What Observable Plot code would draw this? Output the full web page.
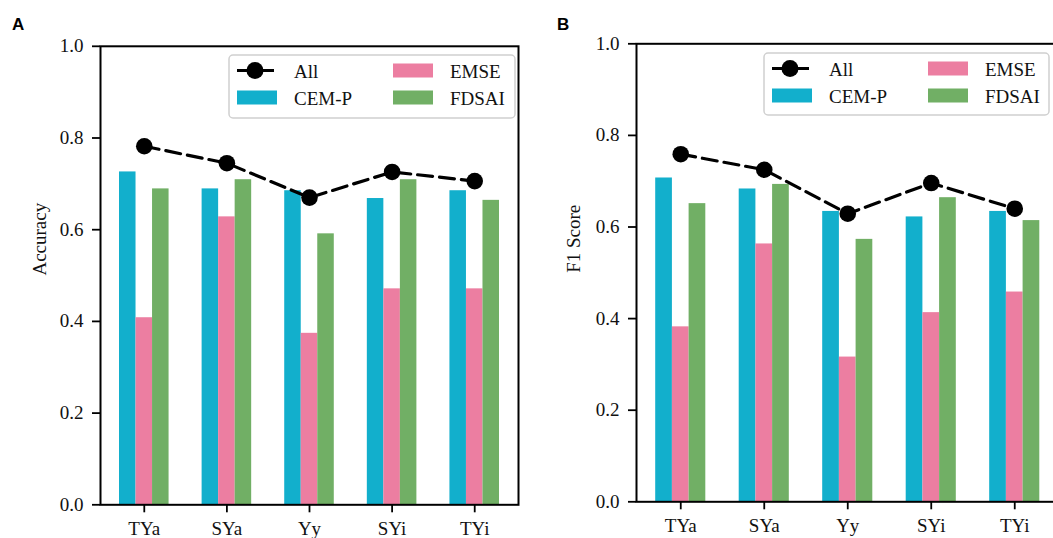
<!DOCTYPE html>
<html><head><meta charset="utf-8">
<script src="https://cdn.jsdelivr.net/npm/d3@7"></script>
<script src="https://cdn.jsdelivr.net/npm/@observablehq/plot@0.6"></script>
<style>
html,body{margin:0;padding:0;background:#fff;overflow:hidden;width:1053px;height:538px}
#wrap{position:relative;width:1053px;height:538px;overflow:hidden}
.panel{position:absolute;top:0}
.panel svg{max-width:none !important}
</style></head><body>
<div id="wrap"></div>
<script>
const categories = ["TYa", "SYa", "Yy", "SYi", "TYi"];
const seriesNames = ["CEM-P", "EMSE", "FDSAI"];
const seriesColors = ["#12afcc", "#ec7ea1", "#71af65"];
const yTicks = [0, 0.2, 0.4, 0.6, 0.8, 1.0];

const accCEMP  = [0.726, 0.689, 0.685, 0.668, 0.685];
const accEMSE  = [0.408, 0.628, 0.374, 0.471, 0.471];
const accFDSAI = [0.689, 0.709, 0.591, 0.709, 0.664];
const accAll   = [0.782, 0.745, 0.670, 0.726, 0.706];

const f1CEMP  = [0.707, 0.683, 0.634, 0.622, 0.634];
const f1EMSE  = [0.382, 0.563, 0.316, 0.413, 0.458];
const f1FDSAI = [0.651, 0.693, 0.573, 0.664, 0.614];
const f1All   = [0.759, 0.725, 0.629, 0.696, 0.640];

const FONT = "Liberation Serif, Times New Roman, serif";
const SANS = "Liberation Sans, Arial, sans-serif";
const wrap = document.getElementById("wrap");

function panel(cfg) {
  const seriesVals = cfg.series;
  const rows = [];
  categories.forEach((c, i) => {
    seriesNames.forEach((s, j) => {
      const off = (j - 1) * 0.2;
      rows.push({cat: c, i, series: s, value: seriesVals[j][i], x1: i + off - 0.1, x2: i + off + 0.1});
    });
  });
  const allRows = categories.map((c, i) => ({cat: c, i, value: cfg.all[i]}));

  const axisFont = {fontFamily: FONT, fontSize: 19, fontVariant: "normal", fill: "#111"};
  const svg = Plot.plot({
    width: cfg.width,
    height: 538,
    marginLeft: cfg.ml, marginRight: cfg.mr, marginTop: cfg.mt, marginBottom: cfg.mb,
    style: {fontFamily: FONT, fontSize: "19px", color: "#111", background: "transparent", overflow: "visible"},
    x: {type: "linear", domain: [-0.53, 4.53]},
    y: {domain: [0, 1]},
    color: {domain: seriesNames, range: seriesColors},
    marks: [
      Plot.rectY(rows, {x1: "x1", x2: "x2", y: "value", fill: "series"}),
      Plot.line(allRows, {x: "i", y: "value", stroke: "black", strokeWidth: 3.2, strokeDasharray: "15,7"}),
      Plot.dot(allRows, {x: "i", y: "value", r: 8.3, fill: "black", stroke: "none"}),
      Plot.frame({stroke: "black", strokeWidth: 2}),
      Plot.axisY({ticks: yTicks, tickFormat: d3.format(".1f"), tickSize: 8, tickPadding: 9, strokeWidth: 1.8, stroke: "black", label: null, ...axisFont}),
      Plot.axisX({ticks: [0, 1, 2, 3, 4], tickFormat: i => categories[i], tickSize: 8, tickPadding: 8.5, strokeWidth: 1.8, stroke: "black", label: null, ...axisFont}),
      Plot.text([cfg.yLabel], {frameAnchor: "left", dx: cfg.labelDx, rotate: -90, ...axisFont})
    ]
  });

  const s = d3.select(svg);
  // panel letter
  s.append("text").attr("x", cfg.letterX).attr("y", 29.5).attr("text-anchor", "start")
    .attr("style", `font-family:${SANS};font-weight:bold;font-size:17px;fill:#000;text-anchor:start`)
    .text(cfg.letter);

  // legend
  const g = s.append("g").attr("transform", `translate(${cfg.legX},${cfg.legY})`);
  g.append("rect").attr("x", 0).attr("y", 0).attr("width", cfg.legW).attr("height", cfg.legH)
    .attr("rx", 4).attr("fill", "white").attr("fill-opacity", 0.85)
    .attr("stroke", "#d0d0d0").attr("stroke-width", 1.5);
  const row1 = 15.5, row2 = 42.5;
  g.append("line").attr("x1", 8).attr("x2", 48).attr("y1", row1).attr("y2", row1)
    .attr("stroke", "black").attr("stroke-width", 3.2).attr("stroke-dasharray", "15,7");
  g.append("circle").attr("cx", 26).attr("cy", row1).attr("r", 8.5).attr("fill", "black");
  const items = [
    {label: "All", tx: 65, y: row1},
    {label: seriesNames[0], color: seriesColors[0], px: 8, tx: 65, y: row2},
    {label: seriesNames[1], color: seriesColors[1], px: 164, tx: 221, y: row1},
    {label: seriesNames[2], color: seriesColors[2], px: 164, tx: 221, y: row2}
  ];
  items.forEach(it => {
    if (it.color) {
      g.append("rect").attr("x", it.px).attr("y", it.y - 7).attr("width", 40).attr("height", 14).attr("fill", it.color);
    }
    g.append("text").attr("x", it.tx).attr("y", it.y + 7).attr("text-anchor", "start")
      .attr("style", `font-family:${FONT};font-size:19px;fill:#111;text-anchor:start`).text(it.label);
  });

  const div = document.createElement("div");
  div.className = "panel";
  div.style.left = cfg.left + "px";
  div.style.width = cfg.width + "px";
  div.appendChild(svg);
  wrap.appendChild(div);
}

panel({
  left: 0, width: 530, ml: 100, mr: 12, mt: 45.8, mb: 33.7,
  series: [accCEMP, accEMSE, accFDSAI], all: accAll,
  yLabel: "Accuracy", labelDx: -61, letter: "A", letterX: 12,
  legX: 229, legY: 55, legW: 286, legH: 63
});
panel({
  left: 530, width: 530, ml: 106, mr: 1.5, mt: 43.3, mb: 36.7,
  series: [f1CEMP, f1EMSE, f1FDSAI], all: f1All,
  yLabel: "F1 Score", labelDx: -63, letter: "B", letterX: 27,
  legX: 234, legY: 53, legW: 285, legH: 62
});
</script>
</body></html>
